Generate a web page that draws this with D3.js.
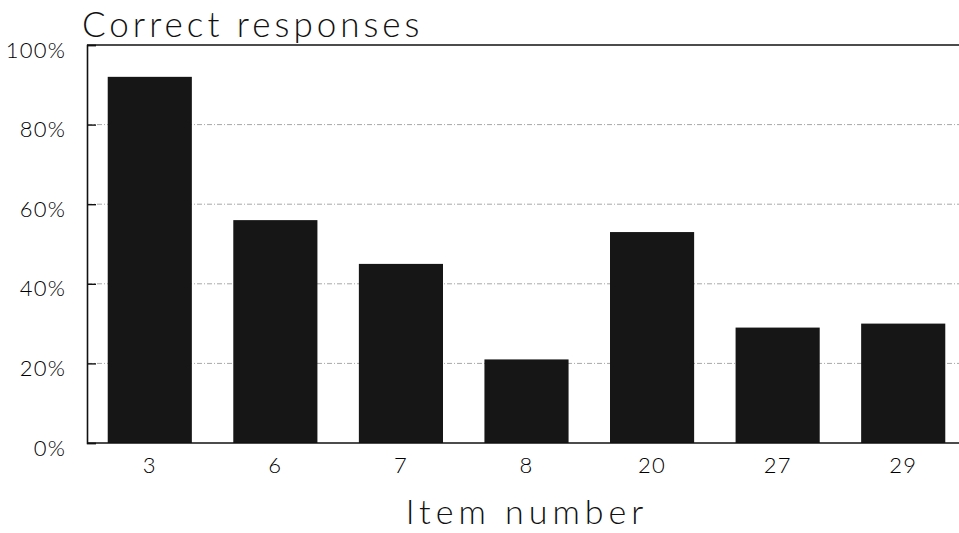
<!DOCTYPE html>
<html>
<head>
<meta charset="utf-8">
<script src="https://cdn.jsdelivr.net/npm/d3@7"></script>
<style>
  html, body { margin: 0; padding: 0; background: #fff; overflow: hidden; }
  svg { display: block; }
  svg text { font-family: "Lato", "DejaVu Sans", sans-serif; }
</style>
</head>
<body>
<div id="chart"></div>
<script>
const items = ["3", "6", "7", "8", "20", "27", "29"];
const correct = [92, 56, 45, 21, 53, 29, 30];
const yTicks = [0, 20, 40, 60, 80, 100];

const width = 959;
const height = 533;
const margin = { top: 45, right: -7, bottom: 90, left: 87 };
const innerW = width - margin.left - margin.right;
const innerH = height - margin.top - margin.bottom;
const font = "Lato, 'DejaVu Sans', sans-serif";

const data = items.map((d, i) => ({ item: d, value: correct[i] }));

const svg = d3
  .select("#chart")
  .append("svg")
  .attr("width", width)
  .attr("height", height);

const x = d3
  .scaleBand()
  .domain(items)
  .range([0, innerW])
  .paddingInner(0.33)
  .paddingOuter(0.165);

const y = d3.scaleLinear().domain([0, 100]).range([innerH, 0]);

const g = svg
  .append("g")
  .attr("transform", `translate(${margin.left},${margin.top})`);

// faint gridlines
g.append("g")
  .selectAll("line")
  .data(yTicks.filter((t) => t > 0 && t < 100))
  .join("line")
  .attr("x1", 0)
  .attr("x2", innerW)
  .attr("y1", (d) => y(d))
  .attr("y2", (d) => y(d))
  .attr("stroke", "#a8a8a8")
  .attr("stroke-width", 1)
  .attr("stroke-dasharray", "5,2,1,2");

// bars
g.append("g")
  .attr("fill", "#161616")
  .selectAll("rect")
  .data(data)
  .join("rect")
  .attr("x", (d) => x(d.item))
  .attr("width", x.bandwidth())
  .attr("y", (d) => y(d.value))
  .attr("height", (d) => y(0) - y(d.value));

// y axis with inward ticks
const yAxis = g
  .append("g")
  .attr("font-family", font)
  .call(
    d3
      .axisLeft(y)
      .tickValues(yTicks)
      .tickSize(-9)
      .tickPadding(21)
      .tickFormat((d) => d + "%")
  );
yAxis.select(".domain").attr("stroke", "#111").attr("stroke-width", 1.6);
yAxis.selectAll(".tick line").attr("stroke", "#111").attr("stroke-width", 1.4);
yAxis
  .selectAll(".tick text")
  .attr("font-size", 22)
  .attr("font-weight", 300)
  .attr("letter-spacing", 1.2)
  .attr("fill", "#000")
  .attr("dy", "0.55em");

// top frame line and baseline
g.append("line")
  .attr("x1", 0)
  .attr("x2", innerW)
  .attr("y1", y(100))
  .attr("y2", y(100))
  .attr("stroke", "#111")
  .attr("stroke-width", 1.6);

g.append("line")
  .attr("x1", 0)
  .attr("x2", innerW)
  .attr("y1", y(0))
  .attr("y2", y(0))
  .attr("stroke", "#111")
  .attr("stroke-width", 1.4);

// x axis labels
const xAxis = g
  .append("g")
  .attr("font-family", font)
  .attr("transform", `translate(0,${innerH})`)
  .call(d3.axisBottom(x).tickSize(0).tickPadding(14));
xAxis.select(".domain").remove();
xAxis
  .selectAll(".tick text")
  .attr("font-size", 22)
  .attr("font-weight", 300)
  .attr("letter-spacing", 1.2)
  .attr("fill", "#000");

// titles
svg
  .append("text")
  .attr("x", 82)
  .attr("y", 37)
  .attr("font-size", 35)
  .attr("font-weight", 300)
  .attr("letter-spacing", 4)
  .attr("fill", "#111")
  .text("Correct responses");

svg
  .append("text")
  .attr("x", 527)
  .attr("y", 524)
  .attr("text-anchor", "middle")
  .attr("font-size", 34)
  .attr("font-weight", 300)
  .attr("letter-spacing", 5)
  .attr("fill", "#111")
  .text("Item number");
</script>
</body>
</html>
